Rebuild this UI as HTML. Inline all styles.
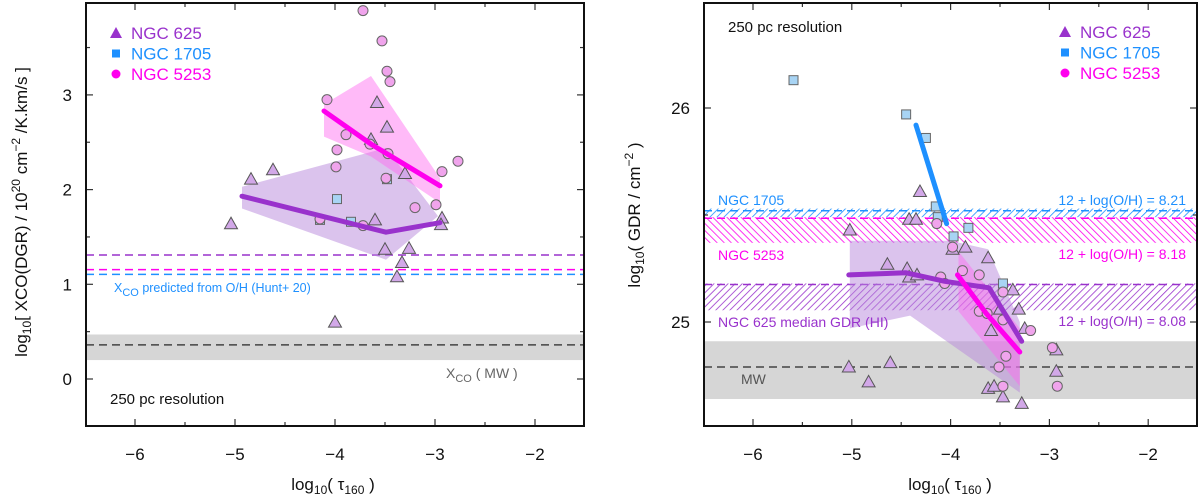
<!DOCTYPE html>
<html><head><meta charset="utf-8"><style>
html,body{margin:0;padding:0;background:#fff;}
svg{display:block;font-family:"Liberation Sans",Arial,sans-serif;}
</style></head><body>
<svg id="fig" width="1200" height="502" viewBox="0 0 1200 502" xmlns="http://www.w3.org/2000/svg">
<defs>
<pattern id="hBlue" patternUnits="userSpaceOnUse" width="5" height="5" patternTransform="rotate(45)"><line x1="0" y1="0" x2="0" y2="5" stroke="#1e90ff" stroke-width="1.6"/></pattern>
<pattern id="hMag" patternUnits="userSpaceOnUse" width="5" height="5" patternTransform="rotate(-45)"><line x1="0" y1="0" x2="0" y2="5" stroke="#ff00ee" stroke-width="1.6"/></pattern>
<pattern id="hPur" patternUnits="userSpaceOnUse" width="5" height="5" patternTransform="rotate(45)"><line x1="0" y1="0" x2="0" y2="5" stroke="#9932cc" stroke-width="1.6"/></pattern>
<clipPath id="clipL"><rect x="86" y="3" width="498" height="423"/></clipPath>
<clipPath id="clipR"><rect x="704" y="3" width="493" height="423"/></clipPath>
</defs>
<g id="L"></g>
<g id="R"></g>
</svg>
<script>
// ---------- Left panel data ----------
const L625x=[-5.04,-4.84,-4.62,-3.58,-3.48,-3.64,-3.30,-3.60,-2.93,-2.94,-3.50,-3.26,-3.33,-3.38,-4.00];
const L625y=[1.64,2.11,2.21,2.92,2.66,2.53,2.17,1.68,1.70,1.63,1.37,1.38,1.23,1.08,0.60];
const L1705x=[-3.98,-3.84,-3.48,-4.15];
const L1705y=[1.90,1.66,2.11,1.68];
const L5253x=[-3.72,-3.53,-3.48,-3.45,-4.08,-3.89,-3.98,-3.99,-3.65,-3.47,-3.49,-2.93,-2.77,-2.99,-3.20,-3.72,-4.15];
const L5253y=[3.89,3.57,3.25,3.14,2.95,2.58,2.42,2.24,2.48,2.38,2.12,2.19,2.30,1.84,1.81,1.62,1.69];
const Lmed625x=[-4.93,-3.49,-2.95];
const Lmed625y=[1.93,1.55,1.65];
const Lmed5253x=[-4.11,-3.64,-2.95];
const Lmed5253y=[2.83,2.48,2.04];
const Lband625x=[-4.93,-3.49,-2.97,-3.49,-4.93];
const Lband625y=[2.03,2.44,1.72,1.26,1.80];
const Lband5253x=[-4.11,-3.64,-2.95,-2.95,-3.64,-4.11];
const Lband5253y=[2.90,3.20,2.12,1.86,2.35,2.56];
const LrefY=[1.31,1.155,1.105];
const LmwY=0.36, LmwLo=0.20, LmwHi=0.47;
const LyTicks=[0,1,2,3];
const xTicks=[-6,-5,-4,-3,-2];

// ---------- Right panel data ----------
const R1705x=[-5.59,-4.45,-4.25,-4.15,-4.13,-3.82,-3.97,-3.47];
const R1705y=[26.13,25.97,25.86,25.54,25.49,25.44,25.40,25.18];
const R625x=[-4.31,-4.42,-4.35,-5.02,-3.98,-3.85,-3.62,-4.64,-4.44,-4.42,-4.34,-3.37,-3.50,-3.31,-3.59,-3.25,-2.93,-2.93,-5.03,-4.61,-4.83,-3.62,-3.56,-3.47,-3.28];
const R625y=[25.61,25.48,25.48,25.43,25.34,25.35,25.30,25.27,25.25,25.21,25.22,25.15,25.06,25.06,24.96,24.97,24.87,24.77,24.79,24.81,24.72,24.69,24.70,24.65,24.62];
const R5253x=[-4.14,-3.98,-4.10,-4.06,-3.88,-3.71,-3.47,-3.47,-3.71,-3.63,-3.19,-3.44,-3.51,-3.47,-2.97,-2.92];
const R5253y=[25.46,25.35,25.21,25.18,25.24,25.22,25.14,25.01,25.05,25.04,24.96,24.84,24.79,24.70,24.88,24.70];
const Rmed1705x=[-4.35,-4.04];
const Rmed1705y=[25.92,25.46];
const Rmed625x=[-5.03,-4.45,-4.06,-3.61,-3.28];
const Rmed625y=[25.22,25.23,25.19,25.16,24.91];
const Rmed5253x=[-3.93,-3.64,-3.30];
const Rmed5253y=[25.22,25.04,24.86];
const Rband625x=[-5.02,-4.0,-3.62,-3.30,-3.30,-4.41,-5.02];
const Rband625y=[25.38,25.38,25.34,25.0,24.67,25.03,24.97];
const Rband5253x=[-3.92,-3.30,-3.30,-3.92];
const Rband5253y=[25.33,24.97,24.70,25.05];
const Rhatch=[[25.49,25.53],[25.37,25.49],[25.055,25.18]];
const RhatchTop=[25.52,25.485,25.175];
const RmwY=24.79, RmwLo=24.64, RmwHi=24.91;
const RyTicks=[25,26];

const NS='http://www.w3.org/2000/svg';
function mk(parent,tag,attrs,text){const e=document.createElementNS(NS,tag);for(const k in attrs)e.setAttribute(k,attrs[k]);if(text!==undefined)e.textContent=text;parent.appendChild(e);return e;}

function panel(g,x0,x1,yTop,yBot,sx,sy,clip){
  return {g,x0,x1,yTop,yBot,sx,sy,clip};
}
const PL=panel(document.getElementById('L'),86,584,3,426,v=>135+100*(v+6),v=>379-94.7*v,'url(#clipL)');
const PR=panel(document.getElementById('R'),704,1197,3,426,v=>753+98.8*(v+6),v=>322-214*(v-25),'url(#clipR)');

function pts(P,xs,ys){return xs.map((x,i)=>P.sx(x).toFixed(1)+','+P.sy(ys[i]).toFixed(1)).join(' ');}

function frame(P,ticksY,minorY){
  const g=P.g;
  // x ticks
  for(let v=-6.5;v<=-1.5+1e-9;v+=0.5){
    const major=Math.abs(v-Math.round(v))<1e-9;
    const x=P.sx(v); const len=major?7:4;
    if(x<=P.x0+1||x>=P.x1-1)continue;
    let t=mk(g,'line',{x1:x,x2:x,y1:P.yBot,y2:P.yBot-len,stroke:'#333','stroke-width':1.2});
    
    
    t=mk(g,'line',{x1:x,x2:x,y1:P.yTop,y2:P.yTop+len,stroke:'#333','stroke-width':1.2});
    
    
  }
  xTicks.forEach(v=>{
    const t=mk(g,'text',{x:P.sx(v),y:460,'font-size':17,'text-anchor':'middle',fill:'#111'},'\u2212'+Math.abs(v));
    
    
  });
  minorY.forEach(v=>{
    const y=P.sy(v); const major=ticksY.includes(v); const len=major?7:4;
    if(y<=P.yTop+1||y>=P.yBot-1)return;
    let t=mk(g,'line',{x1:P.x0,x2:P.x0+len,y1:y,y2:y,stroke:'#333','stroke-width':1.2});
    
    
    t=mk(g,'line',{x1:P.x1,x2:P.x1-len,y1:y,y2:y,stroke:'#333','stroke-width':1.2});
    
    
  });
  ticksY.forEach(v=>{
    const t=mk(g,'text',{x:P.x0-14,y:P.sy(v)+6,'font-size':17,'text-anchor':'end',fill:'#111'},String(v));
    
    
  });
  const r=mk(g,'rect',{x:P.x0,y:P.yTop,width:P.x1-P.x0,height:P.yBot-P.yTop,fill:'none',stroke:'#111','stroke-width':2});
  
  
}

function poly(P,xs,ys,fill,op,name){
  const p=mk(P.g,'polygon',{points:pts(P,xs,ys),fill:fill,'fill-opacity':op,stroke:'none','clip-path':P.clip});
  
  
}
function line(P,xs,ys,col,w,name){
  const p=mk(P.g,'polyline',{points:pts(P,xs,ys),fill:'none',stroke:col,'stroke-width':w,'stroke-linejoin':'round','stroke-linecap':'round'});
  
  
}
function hline(P,v,col,name){
  const y=P.sy(v);
  const l=mk(P.g,'line',{x1:P.x0,x2:P.x1,y1:y,y2:y,stroke:col,'stroke-width':1.5,'stroke-dasharray':'8,5'});
  
  
}
function band(P,lo,hi,fill,name){
  const r=mk(P.g,'rect',{x:P.x0,y:P.sy(hi),width:P.x1-P.x0,height:P.sy(lo)-P.sy(hi),fill:fill});
  
  
}
function tri(P,xs,ys,name){xs.forEach((x,i)=>{const cx=P.sx(x),cy=P.sy(ys[i]);
  const p=mk(P.g,'polygon',{points:`${cx},${cy-6.5} ${cx-6.5},${cy+5} ${cx+6.5},${cy+5}`,fill:'#d2a8e8',stroke:'#555','stroke-width':1,'clip-path':P.clip});
  
  });}
function sq(P,xs,ys,name){xs.forEach((x,i)=>{const cx=P.sx(x),cy=P.sy(ys[i]);
  const p=mk(P.g,'rect',{x:cx-4.5,y:cy-4.5,width:9,height:9,fill:'#a8d4f4',stroke:'#666','stroke-width':1,'clip-path':P.clip});
  
  });}
function circ(P,xs,ys,name){xs.forEach((x,i)=>{const cx=P.sx(x),cy=P.sy(ys[i]);
  const p=mk(P.g,'circle',{cx:cx,cy:cy,r:5,fill:'#f0a4ec',stroke:'#666','stroke-width':1,'clip-path':P.clip});
  
  });}
function txt(P,x,y,s,col,size,anchor,name){
  const t=mk(P.g,'text',{x:x,y:y,'font-size':size,fill:col,'text-anchor':anchor||'start'});
  t.innerHTML=s;
  
  
  return t;
}
function legend(P,x,y){
  const items=[['NGC 625','#9932cc','tri'],['NGC 1705','#1e90ff','sq'],['NGC 5253','#ff00ee','circ']];
  items.forEach((it,i)=>{
    const cy=y+i*20.5; let m;
    if(it[2]==='tri')m=mk(P.g,'polygon',{points:`${x},${cy-6} ${x-6},${cy+5} ${x+6},${cy+5}`,fill:'#9932cc'});
    else if(it[2]==='sq')m=mk(P.g,'rect',{x:x-4,y:cy-4,width:8,height:8,fill:'#1e90ff'});
    else m=mk(P.g,'circle',{cx:x,cy:cy,r:4.5,fill:'#ff00ee'});
    
    
    txt(P,x+15,cy+6,it[0],it[1],17,'start','legend-entry');
  });
}

// ---------- Left panel ----------
band(PL,LmwLo,LmwHi,'#d6d6d6','mw-band');
hline(PL,LmwY,'#444','mw-xco-line');
hline(PL,LrefY[0],'#9932cc','ngc625-predicted-line');
hline(PL,LrefY[1],'#ff00ee','ngc5253-predicted-line');
hline(PL,LrefY[2],'#1e90ff','ngc1705-predicted-line');
poly(PL,Lband625x,Lband625y,'#b888dc',0.5,'ngc625-band');
poly(PL,Lband5253x,Lband5253y,'#ff66f0',0.45,'ngc5253-band');
tri(PL,L625x,L625y,'ngc625-point');
sq(PL,L1705x,L1705y,'ngc1705-point');
circ(PL,L5253x,L5253y,'ngc5253-point');
line(PL,Lmed625x,Lmed625y,'#9932cc',5,'ngc625-median-line');
line(PL,Lmed5253x,Lmed5253y,'#ff00ee',5,'ngc5253-median-line');
txt(PL,114,292,'X<tspan font-size="11" dy="4">CO</tspan><tspan dy="-4"> predicted from O/H (Hunt+ 20)</tspan>','#1e90ff',12.5,'start','xco-predicted-label');
txt(PL,446,378,'X<tspan font-size="11" dy="4">CO</tspan><tspan dy="-4"> ( MW )</tspan>','#666',14,'start','xco-mw-label');
txt(PL,110,404,'250 pc resolution','#111',15,'start','resolution-label');
legend(PL,116,33);
frame(PL,LyTicks,[-0.5,0,0.5,1,1.5,2,2.5,3,3.5]);
{const t=txt(PL,0,0,'log<tspan font-size="12" dy="4">10</tspan><tspan dy="-4">[ XCO(DGR) / 10</tspan><tspan font-size="12" dy="-7">20</tspan><tspan dy="7"> cm</tspan><tspan font-size="12" dy="-7">−2</tspan><tspan dy="7"> /K.km/s ]</tspan>','#111',17,'middle','y-axis-title');
 t.setAttribute('transform','translate(27,212) rotate(-90)');}
txt(PL,333,490,'log<tspan font-size="12" dy="4">10</tspan><tspan dy="-4">( τ</tspan><tspan font-size="12" dy="4">160</tspan><tspan dy="-4"> )</tspan>','#111',17,'middle','x-axis-title');

// ---------- Right panel ----------
band(PR,RmwLo,RmwHi,'#d6d6d6','mw-band');
hline(PR,RmwY,'#444','mw-gdr-line');
band(PR,Rhatch[0][0],Rhatch[0][1],'url(#hBlue)','ngc1705-gdr-hatch');
band(PR,Rhatch[1][0],Rhatch[1][1],'url(#hMag)','ngc5253-gdr-hatch');
band(PR,Rhatch[2][0],Rhatch[2][1],'url(#hPur)','ngc625-gdr-hatch');
hline(PR,RhatchTop[0],'#1e90ff','ngc1705-gdr-line');
hline(PR,RhatchTop[1],'#ff00ee','ngc5253-gdr-line');
hline(PR,RhatchTop[2],'#9932cc','ngc625-gdr-line');
poly(PR,Rband625x,Rband625y,'#b888dc',0.5,'ngc625-band');
poly(PR,Rband5253x,Rband5253y,'#ff66f0',0.45,'ngc5253-band');
tri(PR,R625x,R625y,'ngc625-point');
sq(PR,R1705x,R1705y,'ngc1705-point');
circ(PR,R5253x,R5253y,'ngc5253-point');
line(PR,Rmed1705x,Rmed1705y,'#1e90ff',5,'ngc1705-median-line');
line(PR,Rmed625x,Rmed625y,'#9932cc',5,'ngc625-median-line');
line(PR,Rmed5253x,Rmed5253y,'#ff00ee',5,'ngc5253-median-line');
txt(PR,718,205,'NGC 1705','#1e90ff',14,'start','ngc1705-label');
txt(PR,1186,205,'12 + log(O/H) = 8.21','#1e90ff',14,'end','ngc1705-oh-label');
txt(PR,718,260,'NGC 5253','#ff00ee',14,'start','ngc5253-label');
txt(PR,1186,259,'12 + log(O/H) = 8.18','#ff00ee',14,'end','ngc5253-oh-label');
txt(PR,718,327,'NGC 625 median GDR (HI)','#9932cc',14,'start','ngc625-label');
txt(PR,1186,326,'12 + log(O/H) = 8.08','#9932cc',14,'end','ngc625-oh-label');
txt(PR,741,384,'MW','#555',14,'start','mw-label');
txt(PR,728,32,'250 pc resolution','#111',15,'start','resolution-label');
legend(PR,1065,32);
frame(PR,RyTicks,[24.5,25,25.5,26]);
{const t=txt(PR,0,0,'log<tspan font-size="12" dy="4">10</tspan><tspan dy="-4">( GDR / cm</tspan><tspan font-size="12" dy="-7">−2</tspan><tspan dy="7"> )</tspan>','#111',17,'middle','y-axis-title');
 t.setAttribute('transform','translate(640,215) rotate(-90)');}
txt(PR,950,490,'log<tspan font-size="12" dy="4">10</tspan><tspan dy="-4">( τ</tspan><tspan font-size="12" dy="4">160</tspan><tspan dy="-4"> )</tspan>','#111',17,'middle','x-axis-title');
</script>
</body></html>
